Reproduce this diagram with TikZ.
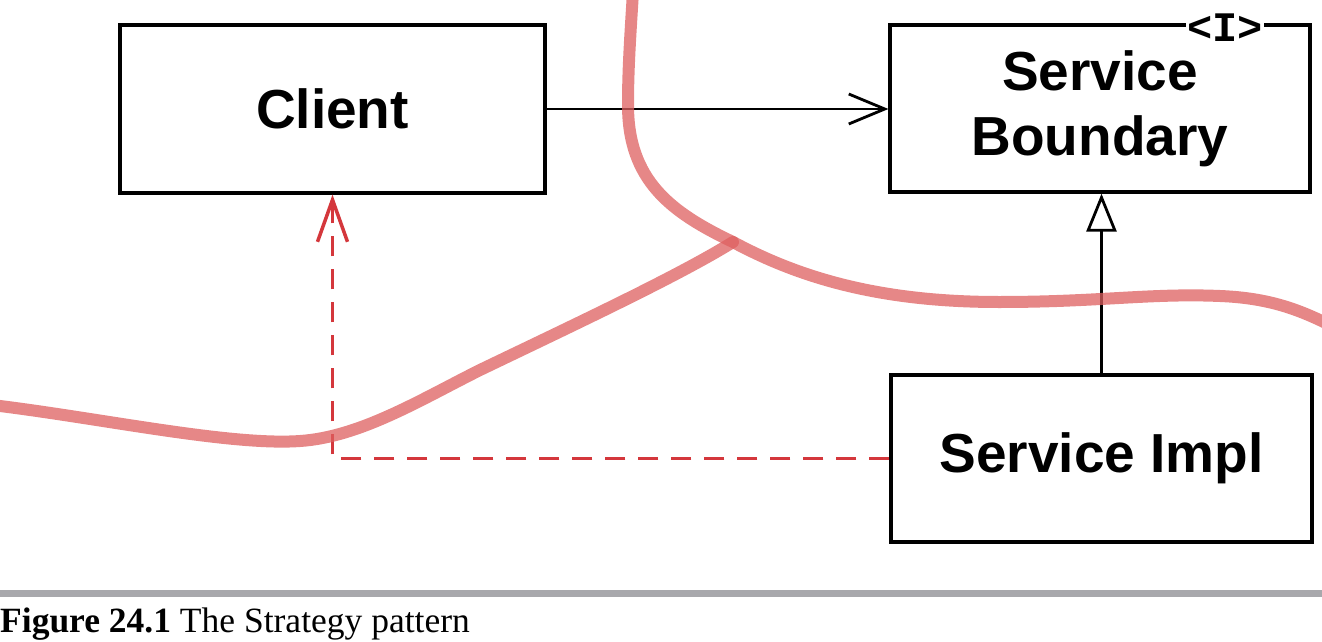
\documentclass[tikz,border=0pt]{standalone}
\usepackage{fontspec}
\setmainfont{Liberation Serif}
\newfontfamily\hv{Liberation Sans}
\newfontfamily\mono{Liberation Mono}
\usetikzlibrary{arrows.meta}
\definecolor{curvered}{RGB}{222,95,95}
\definecolor{dashred}{RGB}{212,55,60}
\definecolor{rulegray}{RGB}{168,168,172}
\tikzset{
  umlbox/.style={draw=black, line width=3.2pt, inner sep=0pt, align=center,
    font=\hv\bfseries\fontsize{55}{65}\selectfont},
  assoc/.style={line width=2.8pt, -{Straight Barb[length=36pt,width=30pt,line width=2.8pt]}},
  inherit/.style={line width=2.8pt, -{Triangle[open,length=38pt,width=30pt,line width=2.8pt,fill=white]}},
  depend/.style={draw=dashred, line width=3.5pt, dash pattern=on 20pt off 13pt,
    -{Straight Barb[length=42pt,width=30pt,line width=3.5pt]}},
  boundary/.style={draw=curvered, line width=12pt, draw opacity=0.75, line cap=round},
}
\begin{document}
\begin{tikzpicture}[x=1pt,y=-1pt]
\useasboundingbox (0,0) rectangle (1322,642);
\node[umlbox, minimum width=425pt, minimum height=168pt] (client) at (332.5,109) {Client};
\node[umlbox, minimum width=420pt, minimum height=167pt] (sb) at (1100,108.5) {Service\\Boundary};
\node[umlbox, minimum width=421pt, minimum height=167pt] (si) at (1101.5,458.5) {Service Impl};
\node[fill=white, inner sep=1pt, font=\mono\bfseries\fontsize{42}{42}\selectfont] (iface) at (1225,28) {<I>};
\draw[assoc] (client.east) -- (sb.west |- client.east);
\draw[inherit] (si.north) -- (si.north |- sb.south);
\coordinate (corner) at (client.south |- si.west);
\draw[depend] (si.west) -- (corner) -- (client.south);
\coordinate (junction) at (733,242);
\draw[boundary] (633,-8) .. controls (630,40) and (628,70) .. (628,105)
  .. controls (628,180) and (670,212) .. (junction)
  .. controls (800,278) and (880,302) .. (999,302)
  .. controls (1100,302) and (1150,293) .. (1220,296)
  .. controls (1270,298) and (1300,310) .. (1332,326);
\draw[boundary] (-8,405) .. controls (100,418) and (230,446) .. (300,441)
  .. controls (360,437) and (420,400) .. (480,370)
  .. controls (580,322) and (680,275) .. (junction);
\fill[rulegray] (0,590) rectangle (1322,597);
\node[anchor=base west, inner sep=0pt, font=\fontsize{35.5}{36}\selectfont] (caption) at (0,632) {\textbf{Figure 24.1} The Strategy pattern};
\end{tikzpicture}
\end{document}
